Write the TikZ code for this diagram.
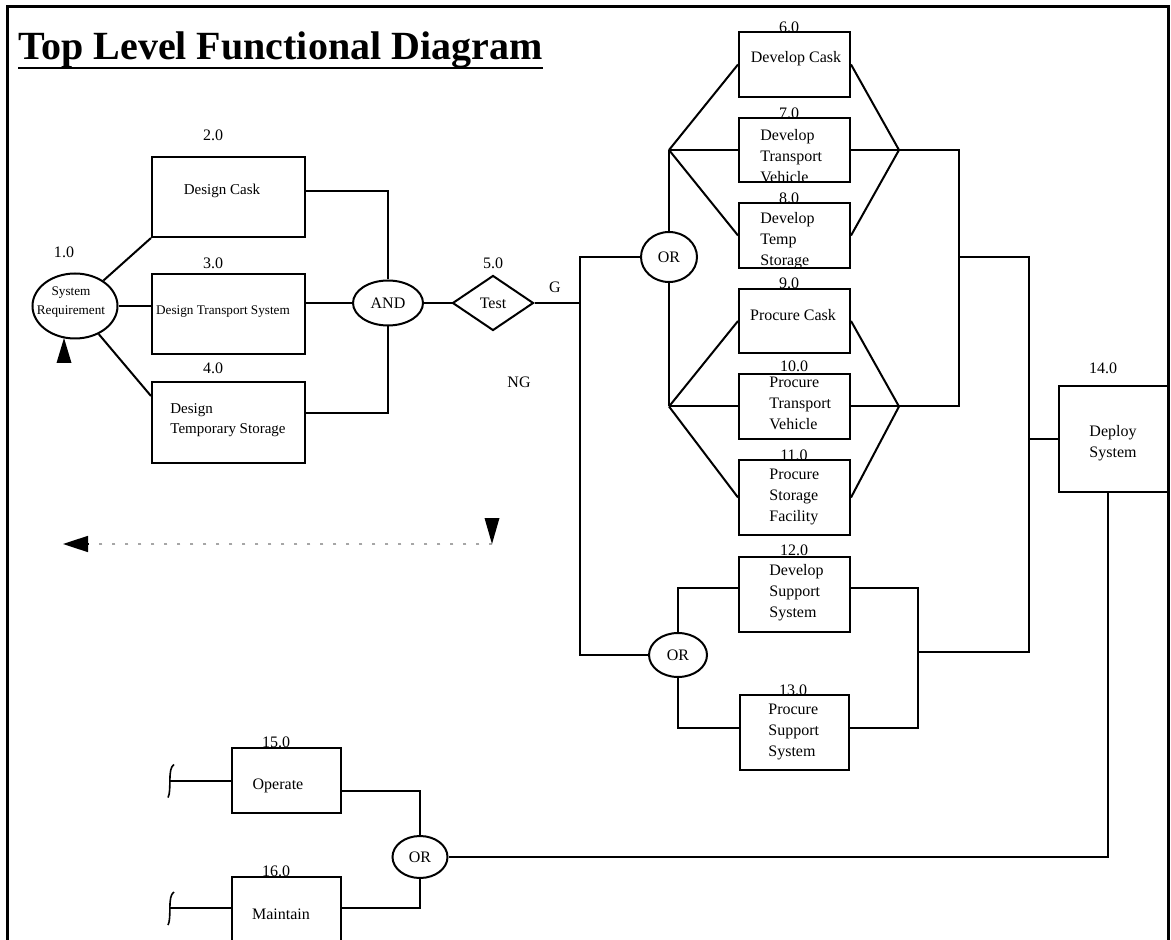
\documentclass[tikz,border=0pt]{standalone}
\usepackage{fontspec}
\setmainfont{Liberation Serif}
\usetikzlibrary{shapes.geometric,fit,arrows.meta}

% font sizes used in the chart
\newcommand\lblsize{\fontsize{8}{10.5}\selectfont}
\newcommand\dsnsize{\fontsize{7.5}{10}\selectfont}
\newcommand\smlsize{\fontsize{6.6}{9.5}\selectfont}

\tikzset{
  box/.style={draw, rectangle, line width=1pt, inner sep=0pt},
  conn/.style={line width=1pt},
  gate/.style={draw, ellipse, line width=1pt, inner sep=0pt, font=\lblsize},
  num/.style={inner sep=0pt, font=\lblsize},
  txt/.style={inner sep=0pt, font=\lblsize, align=left},
  ctxt/.style={inner sep=0pt, font=\lblsize, align=center},
  loopline/.style={line width=0.8pt, gray!70, dash pattern=on 1.5pt off 5pt},
}

\begin{document}
\begin{tikzpicture}[x=0.5pt, y=-0.5pt]
\useasboundingbox (0,0) rectangle (1171,940);
\fill[white] (0,0) rectangle (1171,940);
\clip (0,0) rectangle (1171,940);

% outer frame
\draw[line width=1.5pt] (7,940) -- (7,7) -- (1168,7) -- (1168,940);

% title
\node[anchor=base west, inner sep=0pt, font=\fontsize{20}{24}\selectfont\bfseries] (title) at (18,60) {Top Level Functional Diagram};
\draw[line width=1pt] ([yshift=-4pt]title.base west) -- ([yshift=-4pt]title.base east);

% ---- design stage ----
\node[gate, minimum width=42.5pt, minimum height=32.5pt] (sr) at (75,306) {};
\node[ctxt, font=\smlsize] (srt) at (71,302) {System\\Requirement};
\node[num] (n1) at (64,252) {1.0};

\node[box, fit={(152,157) (305,237)}] (b2) {};
\node[box, fit={(152,274) (305,354)}] (b3) {};
\node[box, fit={(152,382) (305,463)}] (b4) {};
\node[num] (n2) at (213,135) {2.0};
\node[num] (n3) at (213,263) {3.0};
\node[num] (n4) at (213,368) {4.0};
\node[ctxt, font=\dsnsize] (t2) at (222,191) {Design Cask};
\node[ctxt, font=\smlsize] (t3) at (223,312) {Design Transport System};
\node[txt, font=\dsnsize, anchor=west] (t4) at (170,420) {Design\\Temporary Storage};

\node[gate, minimum width=35pt, minimum height=22.5pt] (and) at (388,303) {AND};
\node[draw, diamond, line width=1pt, inner sep=0pt, minimum width=40.5pt, minimum height=27.5pt, font=\lblsize] (test) at (493,303) {Test};
\node[num] (n5) at (493,263) {5.0};
\node[num] (g) at (555,287) {G};
\node[num] (ng) at (519,382) {NG};

% input arrowhead under the requirement
\coordinate (srin) at (64,338);
\fill (srin) -- ([shift={(-3.75pt,-12.5pt)}]srin) -- ([shift={(3.75pt,-12.5pt)}]srin) -- cycle;

\draw[conn] (sr) -- (b2.south west);
\draw[conn] (sr.east) -- (sr.east -| b3.west);
\draw[conn] (sr) -- ([yshift=-7.5pt]b4.north west);
\draw[conn] ([yshift=3pt]b2.east) -| (and.north);
\draw[conn] (b3.east |- and.west) -- (and.west);
\draw[conn] ([yshift=4.75pt]b4.east) -| (and.south);
\draw[conn] (and.east) -- (test.west);

% no-go return path
\coordinate (nga) at (492,544);
\coordinate (ngb) at (63,544);
\draw[loopline, -{Triangle[length=12.5pt,width=8pt]}, black] (nga) -- (ngb);
\draw[loopline] (nga) -- ([xshift=-200pt]nga);
\fill (nga) -- ([shift={(-3.75pt,13pt)}]nga) -- ([shift={(3.75pt,13pt)}]nga) -- cycle;

% ---- develop / procure stage ----
\coordinate (gj) at (580,303);
\draw[conn] (test.east) -- (gj);

\node[gate, minimum width=28pt, minimum height=25pt] (or1) at (669,257) {OR};
\node[gate, minimum width=29pt, minimum height=22pt] (or2) at (678,655) {OR};
\draw[conn] (or1.west) -| (gj) |- (or2.west);

\node[box, fit={(739,32) (850,97)}] (b6) {};
\node[box, fit={(739,118) (850,182)}] (b7) {};
\node[box, fit={(739,203) (850,268)}] (b8) {};
\node[box, fit={(739,289) (850,353)}] (b9) {};
\node[box, fit={(739,374) (850,439)}] (b10) {};
\node[box, fit={(739,460) (850,535)}] (b11) {};
\node[box, fit={(739,557) (850,632)}] (b12) {};
\node[box, fit={(740,695) (849,770)}] (b13) {};

\node[num] (n6) at (789,27) {6.0};
\node[num] (n7) at (789,113) {7.0};
\node[num] (n8) at (789,198) {8.0};
\node[num] (n9) at (789,283) {9.0};
\node[num] (n10) at (794,366) {10.0};
\node[num] (n11) at (794,455) {11.0};
\node[num] (n12) at (794,550) {12.0};
\node[num] (n13) at (793,690) {13.0};

\node[ctxt] (t6) at (796,59) {Develop Cask};
\node[txt, anchor=west] (t7) at (760,156) {Develop\\Transport\\Vehicle};
\node[txt, anchor=west] (t8) at (760,241) {Develop\\Temp\\Storage};
\node[ctxt] (t9) at (793,315) {Procure Cask};
\node[txt, anchor=west] (t10) at (769,403) {Procure\\Transport\\Vehicle};
\node[txt, anchor=west] (t11) at (769,497) {Procure\\Storage\\Facility};
\node[txt, anchor=west] (t12) at (769,593) {Develop\\Support\\System};
\node[txt, anchor=west] (t13) at (768,732) {Procure\\Support\\System};

\coordinate (j1) at (or1 |- b7.west);
\coordinate (j2) at (or1 |- b10.west);
\draw[conn] (or1.north) -- (j1);
\draw[conn] (or1.south) -- (j2);
\draw[conn] (j1) -- (b6.west);
\draw[conn] (j1) -- (b7.west);
\draw[conn] (j1) -- (b8.west);
\draw[conn] (j2) -- (b9.west);
\draw[conn] (j2) -- (b10.west);
\draw[conn] (j2) -- (b11.west);

\coordinate (j3) at ([xshift=24pt]b7.east);
\coordinate (j4) at ([xshift=24pt]b10.east);
\draw[conn] (b6.east) -- (j3) -- (b8.east);
\draw[conn] (b7.east) -- (j3);
\draw[conn] (b9.east) -- (j4) -- (b11.east);
\draw[conn] (b10.east) -- (j4);

\coordinate (k1) at ([xshift=30pt]j3);
\coordinate (k2) at ([xshift=30pt]j4);
\draw[conn] (j3) -- (k1) -- (k2) -- (j4);

\coordinate (km) at (958,257);
\coordinate (kb) at (1029,257);
\coordinate (kc) at (1029,652);
\coordinate (kd) at (918,652);
\draw[conn] (km) -- (kb) -- (kc) -- (kd);

\draw[conn] (or2.north) |- ([yshift=3.5pt]b12.west);
\draw[conn] (or2.south) |- ([yshift=2.5pt]b13.west);
\draw[conn] ([yshift=3.5pt]b12.east) -| (kd);
\draw[conn] ([yshift=2.5pt]b13.east) -| (kd);

% ---- deployment ----
\node[box, fit={(1059,386) (1168,492)}] (dp) {};
\node[num] (n14) at (1103,368) {14.0};
\node[ctxt] (t14) at (1113,443.5) {Deploy\\System};
\draw[conn] (kb |- dp.west) -- (dp.west);

% ---- operation ----
\node[gate, minimum width=27.5pt, minimum height=21pt] (or3) at (420,857) {OR};
\draw[conn] ([xshift=-2.75pt]dp.south) |- (or3.east);

\node[box, fit={(232,748) (341,813)}] (b15) {};
\node[box, fit={(232,877) (341,960)}] (b16) {};
\node[num] (n15) at (276,742) {15.0};
\node[num] (n16) at (276,871) {16.0};
\node[ctxt] (t15) at (278,786) {Operate};
\node[ctxt] (t16) at (281,914) {Maintain};

\draw[conn] ([yshift=-5.25pt]b15.east) -| (or3.north);
\draw[conn] ([yshift=5.25pt]b16.east) -| (or3.south);

\coordinate (s15) at (170,780.5);
\coordinate (s16) at (170,908);
\draw[conn] (b15.west) -- (s15);
\draw[conn] ([yshift=5.25pt]b16.west) -- (s16);
\draw[line width=0.8pt] ([shift={(2pt,8pt)}]s15) .. controls ([shift={(-1.5pt,6pt)}]s15) and ([shift={(1pt,-5pt)}]s15) .. ([shift={(-1pt,-8.5pt)}]s15);
\draw[line width=0.8pt] ([shift={(2pt,8pt)}]s16) .. controls ([shift={(-1.5pt,6pt)}]s16) and ([shift={(1pt,-5pt)}]s16) .. ([shift={(-1pt,-8.5pt)}]s16);
\end{tikzpicture}
\end{document}
